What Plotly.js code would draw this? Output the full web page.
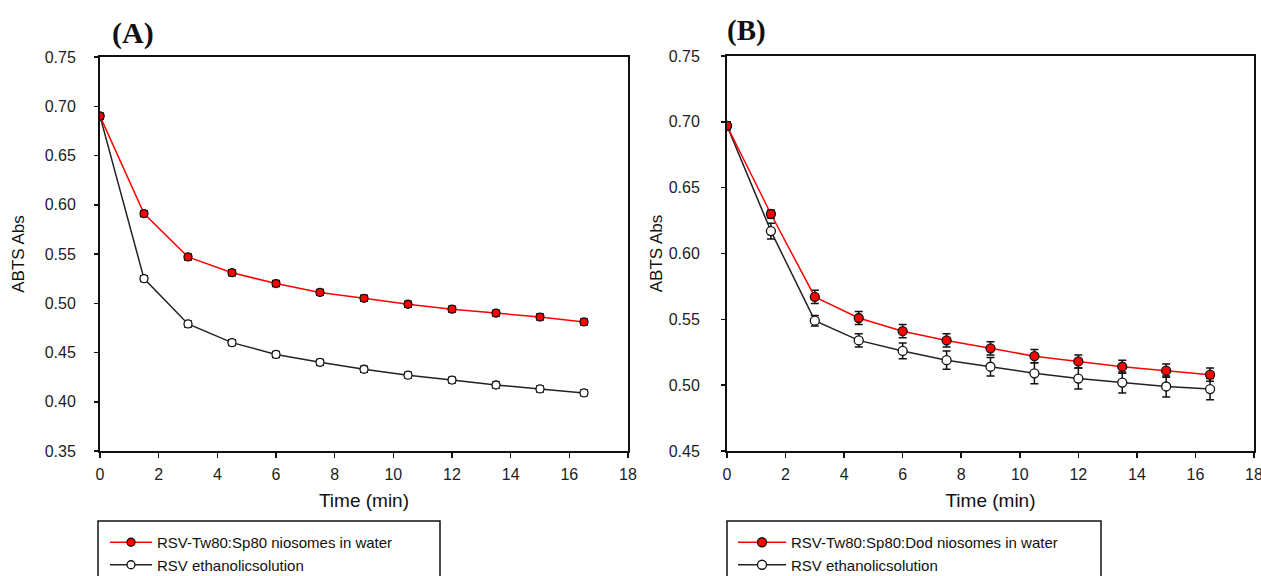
<!DOCTYPE html>
<html>
<head>
<meta charset="utf-8">
<script src="https://cdn.plot.ly/plotly-3.0.1.min.js"></script>
<style>html,body{margin:0;padding:0;background:#fff;}#chart{width:1261px;height:576px;}</style>
</head>
<body>
<div id="chart"></div>
<script>
const time = [0, 1.5, 3, 4.5, 6, 7.5, 9, 10.5, 12, 13.5, 15, 16.5];

// Panel A
const nameA1 = "RSV-Tw80:Sp80 niosomes in water";
const nameA2 = "RSV ethanolicsolution";
const absA1 = [0.690, 0.591, 0.547, 0.531, 0.520, 0.511, 0.505, 0.499, 0.494, 0.490, 0.486, 0.481];
const errA1 = [0.003, 0.003, 0.003, 0.003, 0.003, 0.003, 0.003, 0.003, 0.003, 0.003, 0.003, 0.003];
const absA2 = [0.690, 0.525, 0.479, 0.460, 0.448, 0.440, 0.433, 0.427, 0.422, 0.417, 0.413, 0.409];
const errA2 = [0.003, 0.003, 0.003, 0.003, 0.003, 0.003, 0.003, 0.003, 0.003, 0.003, 0.003, 0.003];

// Panel B
const nameB1 = "RSV-Tw80:Sp80:Dod niosomes in water";
const nameB2 = "RSV ethanolicsolution";
const absB1 = [0.697, 0.630, 0.567, 0.551, 0.541, 0.534, 0.528, 0.522, 0.518, 0.514, 0.511, 0.508];
const errB1 = [0.003, 0.003, 0.005, 0.005, 0.005, 0.005, 0.005, 0.005, 0.005, 0.005, 0.005, 0.005];
const absB2 = [0.697, 0.617, 0.549, 0.534, 0.526, 0.519, 0.514, 0.509, 0.505, 0.502, 0.499, 0.497];
const errB2 = [0.003, 0.006, 0.004, 0.005, 0.006, 0.007, 0.007, 0.008, 0.008, 0.008, 0.008, 0.008];

const xTicks = [0, 2, 4, 6, 8, 10, 12, 14, 16, 18];
const yTicksA = [0.35, 0.40, 0.45, 0.50, 0.55, 0.60, 0.65, 0.70, 0.75];
const yTicksB = [0.45, 0.50, 0.55, 0.60, 0.65, 0.70, 0.75];

const W = 1261, H = 576;
const px = v => v / W;
const py = v => 1 - v / H;
const SANS = 'Liberation Sans, Arial, sans-serif';

function series(x, y, err, name, filled, xa, ya, leg, msize) {
  return {
    x: x, y: y, name: name, type: 'scatter', mode: 'lines+markers',
    xaxis: xa, yaxis: ya, legend: leg,
    line: {color: filled ? '#ff0000' : '#222222', width: 1.5},
    marker: {symbol: 'circle', size: msize, color: filled ? '#ff0000' : '#ffffff',
             line: {color: '#111111', width: 1.3}},
    error_y: {type: 'data', array: err, visible: true, color: '#111111', thickness: 1.5, width: 4}
  };
}

const data = [
  series(time, absA2, errA2, nameA2, false, 'x', 'y', 'legend', 8),
  series(time, absA1, errA1, nameA1, true, 'x', 'y', 'legend', 8),
  series(time, absB2, errB2, nameB2, false, 'x2', 'y2', 'legend2', 9),
  series(time, absB1, errB1, nameB1, true, 'x2', 'y2', 'legend2', 9)
];

const tickFont = {family: SANS, size: 16, color: '#1c1c24'};
const axBase = {
  showline: true, linecolor: '#111', linewidth: 2, mirror: true,
  ticks: 'outside', tickwidth: 1.5, tickcolor: '#111',
  showgrid: false, zeroline: false, tickfont: tickFont, automargin: false, fixedrange: true
};
const xTitle = {text: 'Time (min)', font: {family: SANS, size: 19, color: '#111'}, standoff: 11};
const yTitle = s => ({text: 'ABTS Abs', font: {family: SANS, size: 17, color: '#111'}, standoff: s});

const layout = {
  width: W, height: H,
  margin: {l: 0, r: 0, t: 0, b: 0, autoexpand: false},
  paper_bgcolor: '#fff', plot_bgcolor: '#fff',
  showlegend: true,
  xaxis: Object.assign({}, axBase, {
    domain: [px(100), px(628)], anchor: 'y', range: [0, 18],
    tickmode: 'array', tickvals: xTicks, ticktext: xTicks.map(String),
    ticklen: 5, ticklabelstandoff: 3, ticklabeloverflow: 'allow',
    title: xTitle
  }),
  yaxis: Object.assign({}, axBase, {
    domain: [py(451), py(57)], anchor: 'x', range: [0.35, 0.75],
    tickmode: 'array', tickvals: yTicksA, ticktext: yTicksA.map(v => v.toFixed(2)),
    ticklen: 4, ticklabelstandoff: 15,
    title: yTitle(16)
  }),
  xaxis2: Object.assign({}, axBase, {
    domain: [px(727), px(1254)], anchor: 'y2', range: [0, 18],
    tickmode: 'array', tickvals: xTicks, ticktext: xTicks.map(String),
    ticklen: 5, ticklabelstandoff: 3, ticklabeloverflow: 'allow',
    title: xTitle
  }),
  yaxis2: Object.assign({}, axBase, {
    domain: [py(451), py(56)], anchor: 'x2', range: [0.45, 0.75],
    tickmode: 'array', tickvals: yTicksB, ticktext: yTicksB.map(v => v.toFixed(2)),
    ticklen: 4, ticklabelstandoff: 18,
    title: yTitle(2)
  }),
  legend: {
    x: px(105), y: py(526), xanchor: 'left', yanchor: 'top',
    bgcolor: 'rgba(0,0,0,0)', borderwidth: 0, traceorder: 'reversed', itemwidth: 42,
    font: {family: SANS, size: 15, color: '#111'},
    tracegroupgap: 0, itemclick: false
  },
  legend2: {
    x: px(733), y: py(526), xanchor: 'left', yanchor: 'top',
    bgcolor: 'rgba(0,0,0,0)', borderwidth: 0, traceorder: 'reversed', itemwidth: 48,
    font: {family: SANS, size: 15, color: '#111'},
    tracegroupgap: 0, itemclick: false
  },
  shapes: [
    {type: 'rect', xref: 'paper', yref: 'paper', x0: px(98), x1: px(440), y0: -0.05, y1: py(521),
     line: {color: '#111', width: 1.5}},
    {type: 'rect', xref: 'paper', yref: 'paper', x0: px(727), x1: px(1101), y0: -0.05, y1: py(521),
     line: {color: '#111', width: 1.5}}
  ],
  annotations: [
    {text: '<b>(A)</b>', xref: 'paper', yref: 'paper', x: px(110), y: py(33), xanchor: 'left', yanchor: 'middle',
     showarrow: false, font: {family: 'Liberation Serif, Times New Roman, serif', size: 30, color: '#111'}},
    {text: '<b>(B)</b>', xref: 'paper', yref: 'paper', x: px(725), y: py(30), xanchor: 'left', yanchor: 'middle',
     showarrow: false, font: {family: 'Liberation Serif, Times New Roman, serif', size: 29, color: '#111'}}
  ]
};

Plotly.newPlot('chart', data, layout, {displayModeBar: false, staticPlot: true});
</script>
</body>
</html>
